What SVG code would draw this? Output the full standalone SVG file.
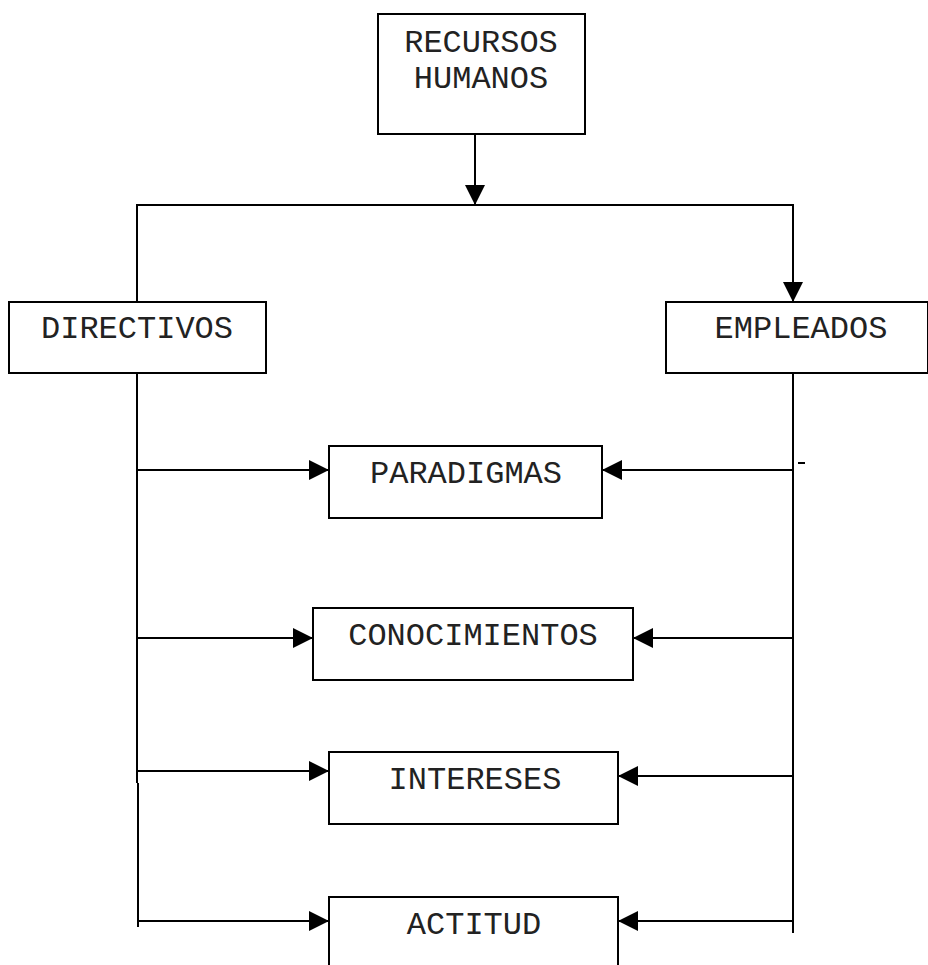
<svg xmlns="http://www.w3.org/2000/svg" width="928" height="965" viewBox="0 0 928 965">
  <defs>
    <marker id="arrow" markerUnits="userSpaceOnUse" markerWidth="20" markerHeight="20" refX="20" refY="10" orient="auto" overflow="visible">
      <path d="M0,0 L20,10 L0,20 Z" fill="#000"/>
    </marker>
    <style>
      .box { fill: #fff; stroke: #000; stroke-width: 2; }
      .lbl { font-family: "Liberation Mono", "Courier New", monospace; font-size: 32px; fill: #222; text-anchor: middle; }
      .wire { fill: none; stroke: #000; stroke-width: 2; }
      .arr { marker-end: url(#arrow); }
    </style>
  </defs>

  <rect width="928" height="965" fill="#fff"/>

  <!-- connectors -->
  <g id="connectors">
    <path class="wire arr" d="M475,134 V205"/>
    <path class="wire arr" d="M137,302 V205 H793 V302"/>
    <path class="wire" d="M137,373 V783"/>
    <path class="wire" d="M138,783 V927"/>
    <path class="wire" d="M793,373 V933"/>
    <path class="wire arr" d="M137,470 H329"/>
    <path class="wire arr" d="M137,638 H313"/>
    <path class="wire arr" d="M137,771 H329"/>
    <path class="wire arr" d="M138,921 H329"/>
    <path class="wire arr" d="M793,470 H602"/>
    <path class="wire arr" d="M793,638 H633"/>
    <path class="wire arr" d="M793,776 H618"/>
    <path class="wire arr" d="M793,921 H618"/>
    <path class="wire" d="M798,463 H805"/>
  </g>

  <g id="recursos-humanos">
    <rect class="box" x="378" y="14" width="207" height="120"/>
    <text class="lbl" x="481" y="52">RECURSOS</text>
    <text class="lbl" x="481" y="88">HUMANOS</text>
  </g>

  <g id="directivos">
    <rect class="box" x="9" y="302" width="257" height="71"/>
    <text class="lbl" x="137" y="338">DIRECTIVOS</text>
  </g>

  <g id="empleados">
    <rect class="box" x="666" y="302" width="262" height="71"/>
    <text class="lbl" x="801" y="338">EMPLEADOS</text>
  </g>

  <g id="paradigmas">
    <rect class="box" x="329" y="446" width="273" height="72"/>
    <text class="lbl" x="466" y="483">PARADIGMAS</text>
  </g>

  <g id="conocimientos">
    <rect class="box" x="313" y="608" width="320" height="72"/>
    <text class="lbl" x="473" y="645">CONOCIMIENTOS</text>
  </g>

  <g id="intereses">
    <rect class="box" x="329" y="752" width="289" height="72"/>
    <text class="lbl" x="475" y="789">INTERESES</text>
  </g>

  <g id="actitud">
    <rect class="box" x="329" y="897" width="289" height="80"/>
    <text class="lbl" x="474" y="934">ACTITUD</text>
  </g>
</svg>
